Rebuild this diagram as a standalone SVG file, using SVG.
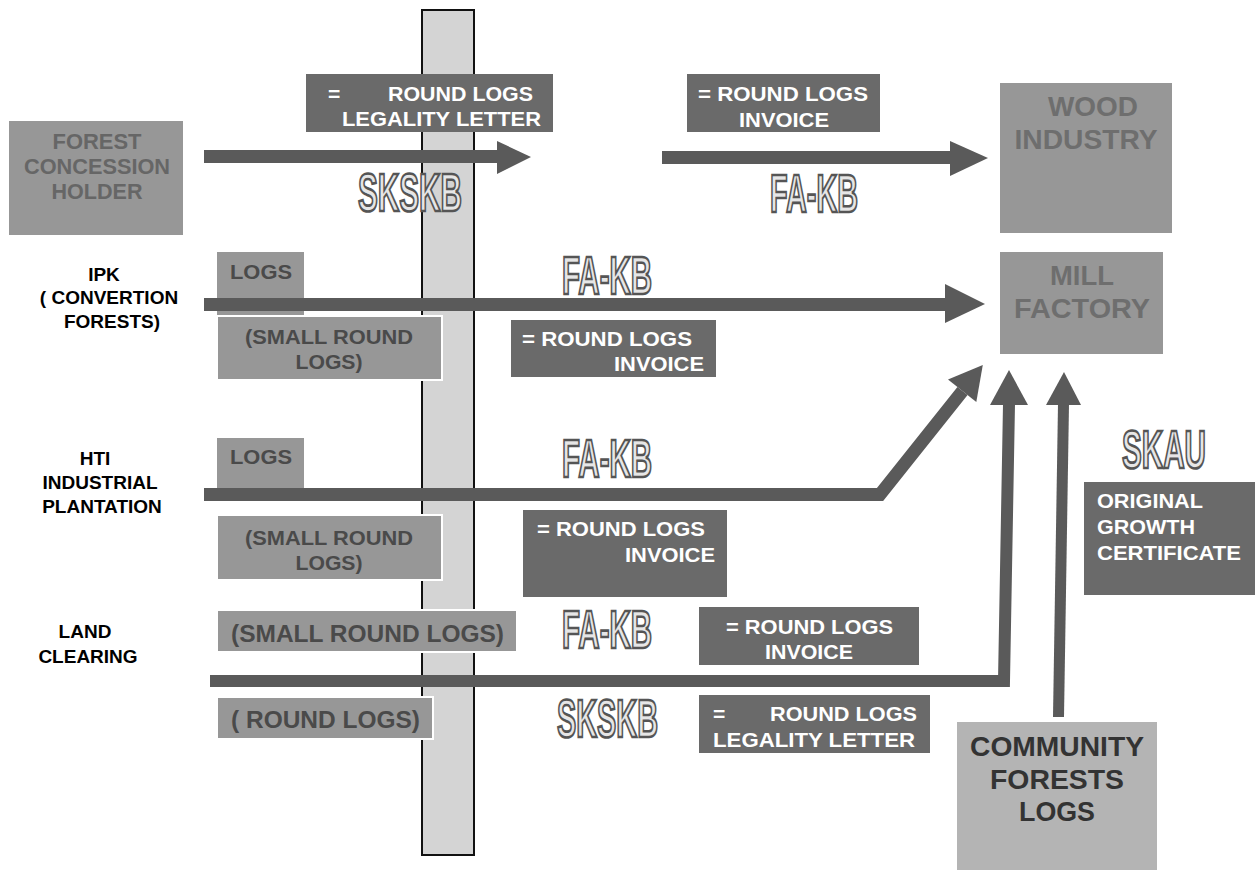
<svg xmlns="http://www.w3.org/2000/svg" width="1258" height="870" viewBox="0 0 1258 870">
<style>
text{font-family:"Liberation Sans",Arial,sans-serif;font-weight:bold;}
.dark{fill:#6a6a6a;}
.gray{fill:#979797;}
.grayw{fill:#979797;stroke:#ffffff;stroke-width:2;}
.wt{fill:#ffffff;font-size:21px;}
.gt{fill:#4a4a4a;font-size:24px;}
.bt{fill:#000000;font-size:19px;text-anchor:middle;}
.big{fill:#6e6e6e;font-size:28px;}
.ol{fill:#e6e6e6;stroke:#555555;stroke-width:1.5px;font-size:30px;}
.arr{fill:#5a5a5a;}
.shaft{fill:none;stroke:#5a5a5a;stroke-linejoin:miter;}
</style>
<rect width="1258" height="870" fill="#ffffff"/>
<g id="checkpoint-bar">
<rect x="422" y="10" width="52" height="845" fill="#d4d4d4" stroke="#111111" stroke-width="2"/>
</g>
<g id="forest-concession-holder">
<rect x="9" y="121" width="174" height="114" class="gray"/>
<text x="97" y="149" text-anchor="middle" style="fill:#666666;font-size:22px" textLength="89" lengthAdjust="spacingAndGlyphs">FOREST</text>
<text x="97" y="174" text-anchor="middle" style="fill:#666666;font-size:22px" textLength="146" lengthAdjust="spacingAndGlyphs">CONCESSION</text>
<text x="97" y="199" text-anchor="middle" style="fill:#666666;font-size:22px" textLength="91" lengthAdjust="spacingAndGlyphs">HOLDER</text>
</g>
<g id="sk-legality-1">
<rect x="306" y="74" width="247" height="58" class="dark"/>
<text y="101" class="wt"><tspan x="328">=</tspan><tspan x="388" textLength="145" lengthAdjust="spacingAndGlyphs">ROUND LOGS</tspan></text>
<text x="342" y="126" class="wt" textLength="199" lengthAdjust="spacingAndGlyphs">LEGALITY LETTER</text>
</g>
<g id="invoice-1">
<rect x="687" y="74" width="193" height="58" class="dark"/>
<text x="698" y="101" class="wt" textLength="170" lengthAdjust="spacingAndGlyphs">= ROUND LOGS</text>
<text x="739" y="127" class="wt" textLength="90" lengthAdjust="spacingAndGlyphs">INVOICE</text>
</g>
<g id="wood-industry">
<rect x="1000" y="83" width="172" height="150" class="gray"/>
<text x="1093" y="116" text-anchor="middle" class="big" textLength="90" lengthAdjust="spacingAndGlyphs">WOOD</text>
<text x="1086" y="149" text-anchor="middle" class="big" textLength="143" lengthAdjust="spacingAndGlyphs">INDUSTRY</text>
</g>
<g id="mill-factory">
<rect x="1000" y="252" width="163" height="102" class="gray"/>
<text x="1082" y="285" text-anchor="middle" class="big" textLength="64" lengthAdjust="spacingAndGlyphs">MILL</text>
<text x="1082" y="318" text-anchor="middle" class="big" textLength="136" lengthAdjust="spacingAndGlyphs">FACTORY</text>
</g>
<g id="ipk-label">
<text x="104" y="281" class="bt">IPK</text>
<text x="109" y="304" class="bt">( CONVERTION</text>
<text x="112" y="328" class="bt">FORESTS)</text>
</g>
<g id="ipk-logs">
<rect x="217" y="252" width="87" height="64" class="gray"/>
<text x="230" y="279" class="gt" style="font-size:21px" textLength="62" lengthAdjust="spacingAndGlyphs">LOGS</text>
</g>
<g id="ipk-small-round-logs">
<rect x="217" y="316" width="225" height="64" class="grayw"/>
<text x="329" y="344" text-anchor="middle" class="gt" style="font-size:21px" textLength="168" lengthAdjust="spacingAndGlyphs">(SMALL ROUND</text>
<text x="329" y="369" text-anchor="middle" class="gt" style="font-size:21px" textLength="67" lengthAdjust="spacingAndGlyphs">LOGS)</text>
</g>
<g id="ipk-invoice">
<rect x="511" y="320" width="205" height="57" class="dark"/>
<text x="522" y="346" class="wt" textLength="170" lengthAdjust="spacingAndGlyphs">= ROUND LOGS</text>
<text x="614" y="371" class="wt" textLength="90" lengthAdjust="spacingAndGlyphs">INVOICE</text>
</g>
<g id="hti-label">
<text x="95" y="465" class="bt">HTI</text>
<text x="100" y="489" class="bt">INDUSTRIAL</text>
<text x="102" y="513" class="bt">PLANTATION</text>
</g>
<g id="hti-logs">
<rect x="217" y="438" width="87" height="52" class="gray"/>
<text x="230" y="464" class="gt" style="font-size:21px" textLength="62" lengthAdjust="spacingAndGlyphs">LOGS</text>
</g>
<g id="hti-small-round-logs">
<rect x="217" y="515" width="225" height="65" class="grayw"/>
<text x="329" y="545" text-anchor="middle" class="gt" style="font-size:21px" textLength="168" lengthAdjust="spacingAndGlyphs">(SMALL ROUND</text>
<text x="329" y="570" text-anchor="middle" class="gt" style="font-size:21px" textLength="67" lengthAdjust="spacingAndGlyphs">LOGS)</text>
</g>
<g id="hti-invoice">
<rect x="523" y="510" width="204" height="87" class="dark"/>
<text x="537" y="536" class="wt" textLength="168" lengthAdjust="spacingAndGlyphs">= ROUND LOGS</text>
<text x="625" y="562" class="wt" textLength="90" lengthAdjust="spacingAndGlyphs">INVOICE</text>
</g>
<g id="land-clearing-label">
<text x="85" y="638" class="bt">LAND</text>
<text x="88" y="663" class="bt">CLEARING</text>
</g>
<g id="land-small-round-logs">
<rect x="217" y="610" width="300" height="42" class="grayw"/>
<text x="231" y="642" class="gt" textLength="273" lengthAdjust="spacingAndGlyphs">(SMALL ROUND LOGS)</text>
</g>
<g id="land-invoice">
<rect x="699" y="607" width="220" height="58" class="dark"/>
<text x="726" y="634" class="wt" textLength="167" lengthAdjust="spacingAndGlyphs">= ROUND LOGS</text>
<text x="765" y="659" class="wt" textLength="88" lengthAdjust="spacingAndGlyphs">INVOICE</text>
</g>
<g id="land-round-logs">
<rect x="217" y="697" width="216" height="42" class="grayw"/>
<text x="231" y="728" class="gt" textLength="189" lengthAdjust="spacingAndGlyphs">( ROUND LOGS)</text>
</g>
<g id="sk-legality-2">
<rect x="699" y="695" width="231" height="58" class="dark"/>
<text y="721" class="wt"><tspan x="713">=</tspan><tspan x="770" textLength="147" lengthAdjust="spacingAndGlyphs">ROUND LOGS</tspan></text>
<text x="713" y="747" class="wt" textLength="202" lengthAdjust="spacingAndGlyphs">LEGALITY LETTER</text>
</g>
<g id="community-forests-logs">
<rect x="957" y="722" width="200" height="148" fill="#b4b4b4"/>
<text x="1057" y="756" text-anchor="middle" class="big" style="fill:#333333" textLength="174" lengthAdjust="spacingAndGlyphs">COMMUNITY</text>
<text x="1057" y="789" text-anchor="middle" class="big" style="fill:#333333" textLength="134" lengthAdjust="spacingAndGlyphs">FORESTS</text>
<text x="1057" y="821" text-anchor="middle" class="big" style="fill:#333333" textLength="76" lengthAdjust="spacingAndGlyphs">LOGS</text>
</g>
<g id="skau-certificate">
<rect x="1084" y="482" width="171" height="113" class="dark"/>
<text x="1097" y="508" class="wt" style="font-size:20px" textLength="106" lengthAdjust="spacingAndGlyphs">ORIGINAL</text>
<text x="1097" y="534" class="wt" style="font-size:20px" textLength="98" lengthAdjust="spacingAndGlyphs">GROWTH</text>
<text x="1097" y="560" class="wt" style="font-size:20px" textLength="144" lengthAdjust="spacingAndGlyphs">CERTIFICATE</text>
</g>
<g id="doc-labels">
<text transform="translate(358,211) scale(1,1.8)" class="ol" textLength="104" lengthAdjust="spacingAndGlyphs">SKSKB</text>
<text transform="translate(770,212) scale(1,1.8)" class="ol" textLength="88" lengthAdjust="spacingAndGlyphs">FA-KB</text>
<text transform="translate(562,294) scale(1,1.8)" class="ol" textLength="90" lengthAdjust="spacingAndGlyphs">FA-KB</text>
<text transform="translate(562,477) scale(1,1.8)" class="ol" textLength="90" lengthAdjust="spacingAndGlyphs">FA-KB</text>
<text transform="translate(562,648) scale(1,1.8)" class="ol" textLength="90" lengthAdjust="spacingAndGlyphs">FA-KB</text>
<text transform="translate(557,737) scale(1,1.8)" class="ol" textLength="101" lengthAdjust="spacingAndGlyphs">SKSKB</text>
<text transform="translate(1122,468) scale(1,1.8)" class="ol" textLength="84" lengthAdjust="spacingAndGlyphs">SKAU</text>
</g>
<g id="connectors">
<rect x="204" y="150" width="294" height="13" class="arr"/>
<polygon points="497,141 531,157 497,174" class="arr"/>
<rect x="662" y="151" width="289" height="13" class="arr"/>
<polygon points="950,141 988,158 950,176" class="arr"/>
<rect x="204" y="298" width="742" height="13" class="arr"/>
<polygon points="945,284 985,304 945,323" class="arr"/>
<path d="M204,494.5 L880,494.5 L962.5,391" class="shaft" stroke-width="13"/>
<polygon points="948,379.6 982.8,365 976.3,402" class="arr"/>
<path d="M210,681 L1004,681 L1009,404" class="shaft" stroke-width="12"/>
<polygon points="990,405 1009,370 1028,405" class="arr"/>
<path d="M1058.5,717 L1063.5,404" class="shaft" stroke-width="11"/>
<polygon points="1046,405 1064,372 1081,405" class="arr"/>
</g>
</svg>
